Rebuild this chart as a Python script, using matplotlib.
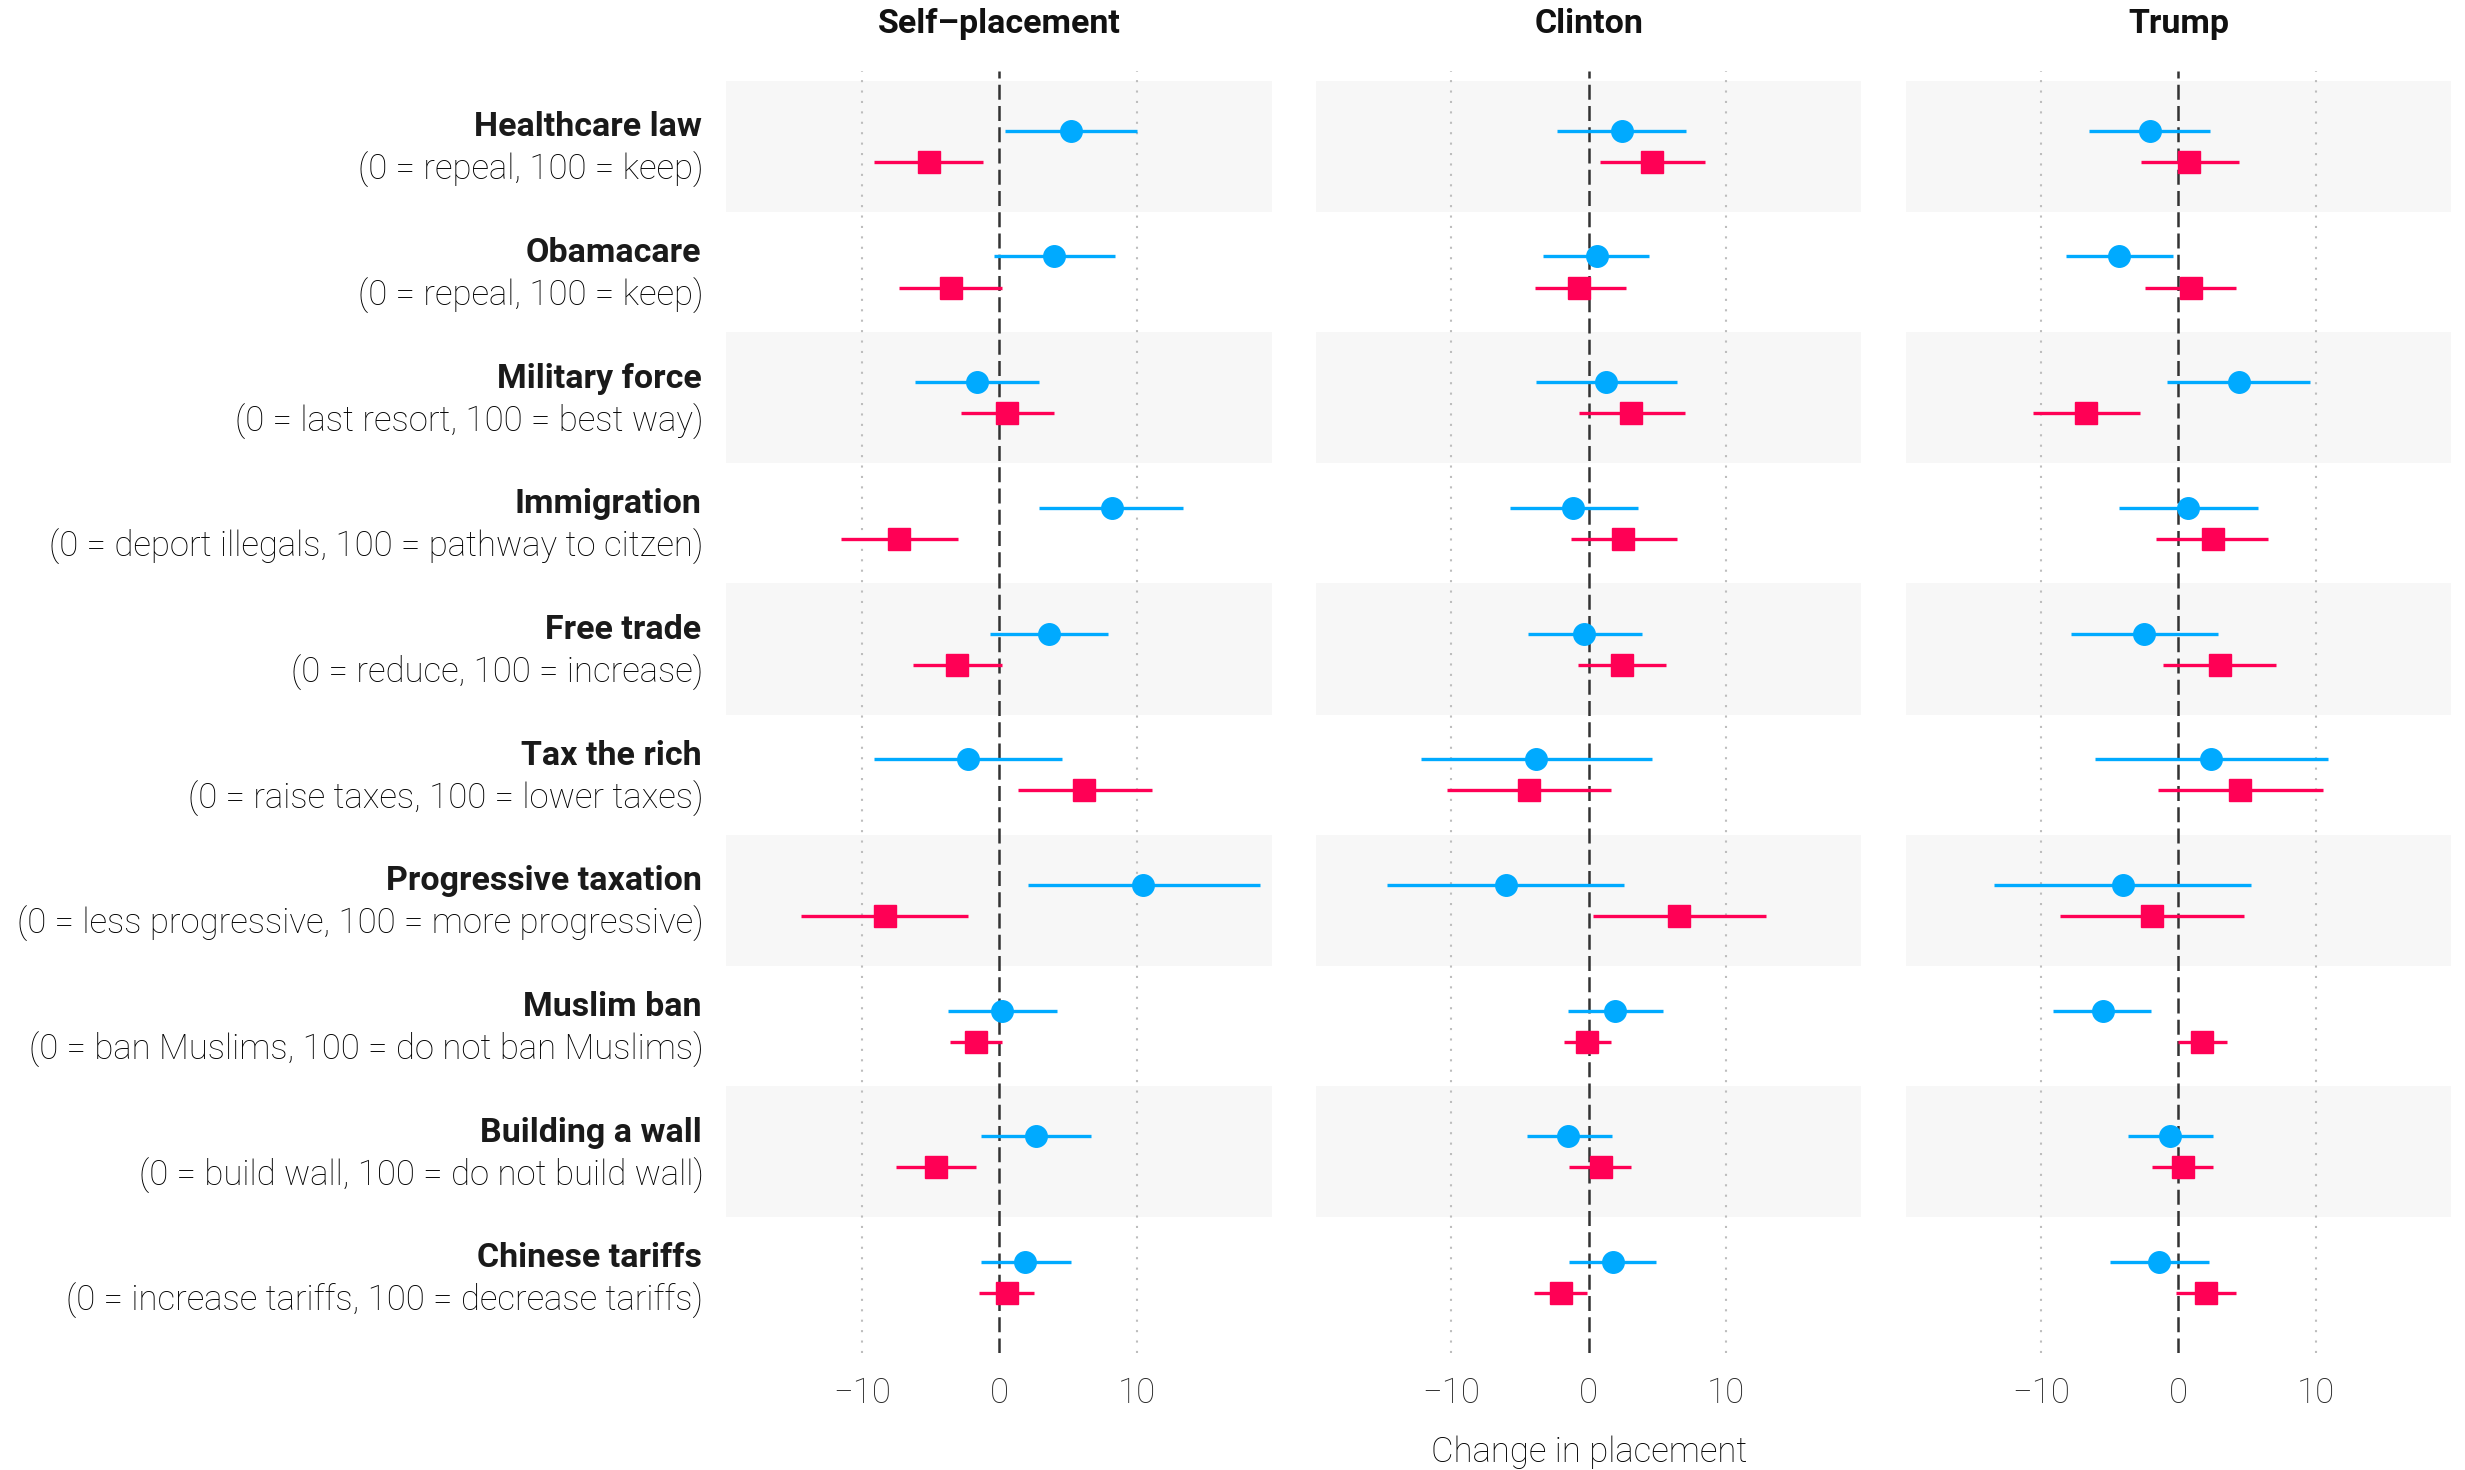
import numpy as np
import matplotlib.pyplot as plt
from matplotlib import transforms

plt.rcParams['font.family'] = ['Roboto', 'DejaVu Sans']

topics = ['Healthcare law', 'Obamacare', 'Military force', 'Immigration', 'Free trade',
          'Tax the rich', 'Progressive taxation', 'Muslim ban', 'Building a wall', 'Chinese tariffs']
scales = ['(0 = repeal, 100 = keep)', '(0 = repeal, 100 = keep)',
          '(0 = last resort, 100 = best way)', '(0 = deport illegals, 100 = pathway to citzen)',
          '(0 = reduce, 100 = increase)', '(0 = raise taxes, 100 = lower taxes)',
          '(0 = less progressive, 100 = more progressive)', '(0 = ban Muslims, 100 = do not ban Muslims)',
          '(0 = build wall, 100 = do not build wall)', '(0 = increase tariffs, 100 = decrease tariffs)']
panels = ['Self\u2013placement', 'Clinton', 'Trump']

# circles (blue) and squares (red): estimate, lower, upper
self_circ_est = [5.2, 4.0, -1.6, 8.2, 3.6, -2.3, 10.5, 0.2, 2.7, 1.9]
self_circ_lo = [0.4, -0.4, -6.1, 2.9, -0.7, -9.1, 2.1, -3.7, -1.3, -1.3]
self_circ_hi = [10.0, 8.4, 2.9, 13.4, 7.9, 4.6, 19.0, 4.2, 6.7, 5.2]
self_sq_est = [-5.1, -3.5, 0.6, -7.3, -3.1, 6.2, -8.3, -1.7, -4.6, 0.6]
self_sq_lo = [-9.1, -7.3, -2.8, -11.5, -6.3, 1.4, -14.4, -3.6, -7.5, -1.5]
self_sq_hi = [-1.2, 0.2, 4.0, -3.0, 0.2, 11.1, -2.3, 0.2, -1.7, 2.5]

clinton_circ_est = [2.4, 0.6, 1.3, -1.1, -0.3, -3.8, -6.0, 1.9, -1.5, 1.8]
clinton_circ_lo = [-2.3, -3.3, -3.8, -5.7, -4.4, -12.2, -14.7, -1.5, -4.5, -1.4]
clinton_circ_hi = [7.1, 4.4, 6.4, 3.6, 3.9, 4.6, 2.6, 5.4, 1.7, 4.9]
clinton_sq_est = [4.6, -0.7, 3.1, 2.5, 2.4, -4.3, 6.6, -0.1, 0.9, -2.0]
clinton_sq_lo = [0.8, -3.9, -0.7, -1.3, -0.8, -10.3, 0.3, -1.8, -1.4, -4.0]
clinton_sq_hi = [8.5, 2.7, 7.0, 6.4, 5.6, 1.6, 12.9, 1.6, 3.1, -0.1]

trump_circ_est = [-2.1, -4.3, 4.4, 0.7, -2.5, 2.4, -4.0, -5.5, -0.6, -1.4]
trump_circ_lo = [-6.5, -8.2, -0.8, -4.3, -7.8, -6.1, -13.4, -9.1, -3.7, -5.0]
trump_circ_hi = [2.3, -0.4, 9.6, 5.8, 2.9, 10.9, 5.3, -2.0, 2.5, 2.2]
trump_sq_est = [0.8, 0.9, -6.7, 2.5, 3.0, 4.5, -1.9, 1.7, 0.3, 2.0]
trump_sq_lo = [-2.7, -2.4, -10.6, -1.6, -1.1, -1.5, -8.6, 0.0, -1.9, -0.2]
trump_sq_hi = [4.4, 4.2, -2.8, 6.5, 7.1, 10.5, 4.8, 3.5, 2.5, 4.2]

data = [
    (self_circ_est, self_circ_lo, self_circ_hi, self_sq_est, self_sq_lo, self_sq_hi),
    (clinton_circ_est, clinton_circ_lo, clinton_circ_hi, clinton_sq_est, clinton_sq_lo, clinton_sq_hi),
    (trump_circ_est, trump_circ_lo, trump_circ_hi, trump_sq_est, trump_sq_lo, trump_sq_hi),
]

blue = '#00AAFF'
red = '#FF0055'

fig = plt.figure(figsize=(24.65, 14.70), dpi=100)
lefts = [0.2947, 0.5338, 0.7731]
rows = np.arange(len(topics))
off = 0.124

for k, left in enumerate(lefts):
    ax = fig.add_axes([left, 0.0797, 0.2213, 0.872])
    ce, cl, ch, se, sl, sh = [np.array(a) for a in data[k]]
    for i in range(0, len(topics), 2):
        ax.axhspan(i - 0.523, i + 0.523, color='#F7F7F7', zorder=0, lw=0)
    for v in (-10, 10):
        ax.axvline(v, color='#BDBDBD', lw=1.5, ls=(0, (1, 4)), zorder=1)
    ax.axvline(0, color='#333333', lw=1.8, ls=(0, (6, 2.5)), zorder=2)
    ax.errorbar(ce, rows - off, xerr=[ce - cl, ch - ce], fmt='o', color=blue,
                ms=15.5, elinewidth=2.4, capsize=0, zorder=3)
    ax.errorbar(se, rows + off, xerr=[se - sl, sh - se], fmt='s', color=red,
                ms=16, elinewidth=2.4, capsize=0, zorder=3)
    ax.set_xlim(-19.85, 19.85)
    ax.set_ylim(len(topics) - 0.4, -0.6)
    ax.set_xticks([-10, 0, 10])
    ax.set_yticks([])
    ax.tick_params(axis='x', length=0, pad=17, labelsize=25, labelcolor='#262626')
    for lab in ax.get_xticklabels():
        lab.set_fontweight('light')
    for s in ax.spines.values():
        s.set_visible(False)
    ax.text(0.5, 1.0367, panels[k], transform=ax.transAxes, ha='center', va='center',
            fontsize=24.5, fontweight='bold', color='#111111')
    if k == 0:
        tr = transforms.blended_transform_factory(ax.transAxes, ax.transData)
        for i in rows:
            ax.annotate(topics[i], xy=(0, i), xycoords=tr, xytext=(-25, 19),
                        textcoords='offset pixels', ha='right', va='center',
                        fontsize=24.5, fontweight='bold', color='#1A1A1A', annotation_clip=False)
            ax.annotate(scales[i], xy=(0, i), xycoords=tr, xytext=(-23, -24),
                        textcoords='offset pixels', ha='right', va='center',
                        fontsize=25, fontweight='light', color='#000000', annotation_clip=False)

fig.text(0.6446, 0.0122, 'Change in placement', ha='center', va='center',
         fontsize=25, fontweight='light', color='#000000')

fig.savefig('out.png', dpi=100, facecolor='white')
